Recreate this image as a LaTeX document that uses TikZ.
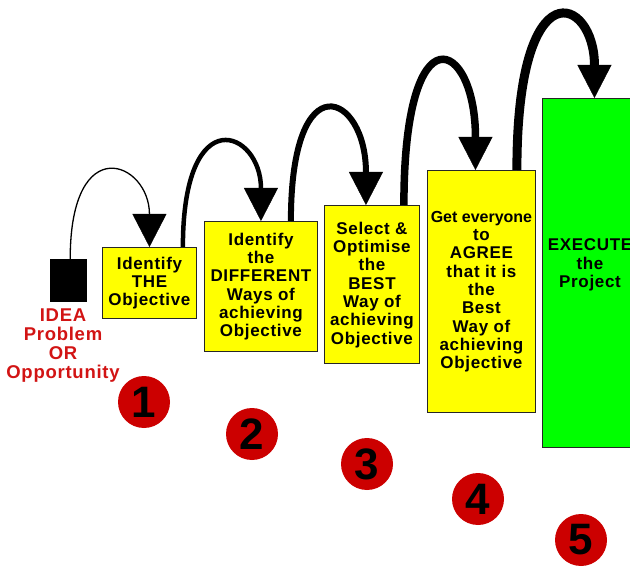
\documentclass[tikz,border=0pt]{standalone}
\usepackage{fontspec}
\setmainfont{Liberation Sans}
\usetikzlibrary{arrows.meta,calc}

\definecolor{stepyellow}{RGB}{255,255,0}
\definecolor{stepgreen}{RGB}{0,255,0}
\definecolor{ideared}{RGB}{210,20,20}
\definecolor{numred}{RGB}{204,0,0}

\newcommand\stepfont{\bfseries\fontsize{17}{18.3}\selectfont\addfontfeature{LetterSpace=4}}
\newcommand\ideafont{\bfseries\fontsize{18.5}{19}\selectfont\addfontfeature{LetterSpace=4}}
\newcommand\numfont{\bfseries\fontsize{44}{44}\selectfont}

\tikzset{
  stepbox/.style={draw=black!85, line width=0.9pt, fill=stepyellow, inner sep=0pt,
                  align=center, anchor=north west, font=\stepfont},
  numcirc/.style={circle, fill=numred, minimum size=52pt, inner sep=0pt, font=\numfont},
  hop/.style={-{Triangle[length=33pt,width=34pt,line width=0.4pt]}, line cap=butt},
}

\begin{document}
\begin{tikzpicture}[x=1pt,y=-1pt]
\useasboundingbox (0,0) rectangle (630,567);

% the idea
\node (idea) [fill=black, minimum width=37pt, minimum height=43pt, inner sep=0pt,
              anchor=north west] at (50,259) {};
\node (idealabel) [anchor=north, inner sep=0pt, align=center, font=\ideafont, text=ideared]
      at (63,309) {IDEA\\Problem\\OR\\Opportunity};

% the steps
\node (s1) [stepbox, minimum width=94pt, minimum height=71pt, text depth=3pt] at (102,247)
      {Identify\\THE\\Objective};
\node (s2) [stepbox, minimum width=113pt, minimum height=130pt, text depth=3pt] at (204,221)
      {Identify\\the\\DIFFERENT\\Ways of\\achieving\\Objective};
\node (s3) [stepbox, minimum width=95pt, minimum height=158pt, text depth=3pt] at (324,205)
      {Select \&\\Optimise\\the\\BEST\\Way of\\achieving\\Objective};
\node (s4) [stepbox, minimum width=108pt, minimum height=242pt, text depth=3pt] at (427,170)
      {{\fontsize{16}{18.3}\selectfont\addfontfeature{LetterSpace=0}Get everyone}\\to\\AGREE\\that it is\\the\\Best\\Way of\\achieving\\Objective};
\node (s5) [stepbox, fill=stepgreen, minimum width=96pt, minimum height=349pt] at (542,98) {};
\node (s5text) [align=center, inner sep=0pt, font=\stepfont] at (590,265)
      {EXECUTE\\the\\Project};

% hops from one step to the next
\draw[hop, line width=1.3pt] ($(idea.north)+(1.5,0)$)
      .. controls +(0,-130) and +(0,-85) .. (s1.north);
\draw[hop, line width=4.5pt] ($(s1.north east)+(-14,0)$)
      .. controls +(0,-149) and +(0,-90) .. (s2.north);
\draw[hop, line width=6pt] ($(s2.north east)+(-27,0)$)
      .. controls +(0,-161) and +(0,-112) .. ($(s3.north)+(-6,0)$);
\draw[hop, line width=7.5pt] ($(s3.north east)+(-16,0)$)
      .. controls +(0,-199) and +(0,-131) .. ($(s4.north)+(-6,0)$);
\draw[hop, line width=9pt] ($(s4.north east)+(-19,0)$)
      .. controls +(0,-206) and +(0,-101) .. ($(s5.north)+(4,0)$);

% step numbers
\node (n1) [numcirc] at (144,402) {1};
\node (n2) [numcirc] at (252,434) {2};
\node (n3) [numcirc] at (367,464) {3};
\node (n4) [numcirc] at (478,499) {4};
\node (n5) [numcirc] at (581,540) {5};
\end{tikzpicture}
\end{document}
